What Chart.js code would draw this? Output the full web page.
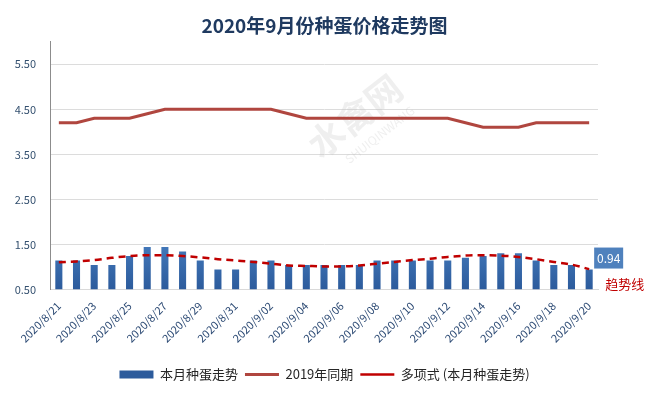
<!DOCTYPE html>
<html>
<head>
<meta charset="utf-8">
<script src="https://cdn.jsdelivr.net/npm/chart.js@4"></script>
<style>
  body { margin: 0; background: #fff; }
  #wrap { width: 649px; height: 395px; }
</style>
</head>
<body>
<div id="wrap"><canvas id="myChart" width="649" height="395"></canvas></div>
<script>
const dates = [
    '2020/8/21', '2020/8/22', '2020/8/23', '2020/8/24', '2020/8/25', '2020/8/26',
    '2020/8/27', '2020/8/28', '2020/8/29', '2020/8/30', '2020/8/31',
    '2020/9/01', '2020/9/02', '2020/9/03', '2020/9/04', '2020/9/05', '2020/9/06',
    '2020/9/07', '2020/9/08', '2020/9/09', '2020/9/10', '2020/9/11', '2020/9/12',
    '2020/9/13', '2020/9/14', '2020/9/15', '2020/9/16', '2020/9/17', '2020/9/18',
    '2020/9/19', '2020/9/20'
];
const thisMonth = [
    1.14, 1.14, 1.04, 1.04, 1.24, 1.44, 1.44, 1.34, 1.14, 0.94, 0.94,
    1.14, 1.14, 1.04, 1.04, 1.04, 1.04, 1.04, 1.14, 1.14, 1.14, 1.14,
    1.14, 1.20, 1.24, 1.30, 1.30, 1.14, 1.04, 1.04, 0.94
];
const lastYear = [
    4.2, 4.2, 4.3, 4.3, 4.3, 4.4, 4.5, 4.5, 4.5, 4.5, 4.5,
    4.5, 4.5, 4.4, 4.3, 4.3, 4.3, 4.3, 4.3, 4.3, 4.3, 4.3,
    4.3, 4.2, 4.1, 4.1, 4.1, 4.2, 4.2, 4.2, 4.2
];
const trend = [
    1.10, 1.12, 1.15, 1.20, 1.24, 1.26, 1.26, 1.24, 1.21, 1.17, 1.14,
    1.11, 1.07, 1.03, 1.02, 1.01, 1.01, 1.03, 1.07, 1.11, 1.15, 1.18,
    1.22, 1.25, 1.26, 1.25, 1.22, 1.17, 1.11, 1.05, 0.95
];
const yTicks = [0.5, 1.5, 2.5, 3.5, 4.5, 5.5];

const fontCJK = "'Noto Sans CJK SC', 'Noto Sans', sans-serif";
const ctx = document.getElementById('myChart');

// faint site watermark behind the marks
const watermark = {
    id: 'watermark',
    beforeDatasetsDraw(chart) {
        const c = chart.ctx;
        c.save();
        c.translate(355, 116);
        c.rotate(-38 * Math.PI / 180);
        c.fillStyle = 'rgba(190,190,190,0.25)';
        c.font = "bold 36px " + fontCJK;
        c.textAlign = 'center';
        c.textBaseline = 'middle';
        c.fillText('水禽网', 0, 0);
        c.font = "12px " + fontCJK;
        c.fillText('SHUIQINWANG', 8, 30);
        c.restore();
    }
};

// value box on the last bar + "趋势线" note
const lastNote = {
    id: 'lastNote',
    afterDatasetsDraw(chart) {
        const c = chart.ctx;
        const bars = chart.getDatasetMeta(0).data;
        const bar = bars[bars.length - 1];
        const txt = thisMonth[thisMonth.length - 1].toFixed(2);
        const x = bar.x + 5, y = bar.y - 22;
        c.save();
        c.fillStyle = '#4f81bd';
        c.fillRect(x, y, 29, 21);
        c.fillStyle = '#fff';
        c.font = "12px " + fontCJK;
        c.textAlign = 'center';
        c.textBaseline = 'middle';
        c.fillText(txt, x + 14.5, y + 11);
        c.fillStyle = '#c00000';
        c.font = "13px " + fontCJK;
        c.textAlign = 'left';
        c.fillText('趋势线', x + 11, bar.y + 15);
        c.restore();
    }
};

new Chart(ctx, {
    type: 'bar',
    data: {
        labels: dates,
        datasets: [{
            label: '本月种蛋走势',
            data: thisMonth,
            backgroundColor: function (context) {
                const area = context.chart.chartArea;
                if (!area) return '#3a6eb0';
                const g = context.chart.ctx.createLinearGradient(0, area.bottom - 70, 0, area.bottom);
                g.addColorStop(0, '#5089cb');
                g.addColorStop(1, '#2c5b9c');
                return g;
            },
            pointStyle: 'rect',
            categoryPercentage: 1,
            barPercentage: 0.4,
            order: 3
        }, {
            type: 'line',
            label: '2019年同期',
            data: lastYear,
            borderColor: '#b0463f',
            backgroundColor: '#b0463f',
            borderWidth: 3,
            pointRadius: 0,
            pointStyle: 'line',
            tension: 0,
            order: 1
        }, {
            type: 'line',
            label: '多项式 (本月种蛋走势)',
            data: trend,
            borderColor: '#c00000',
            backgroundColor: '#c00000',
            borderWidth: 2.5,
            borderDash: [7, 5],
            pointRadius: 0,
            pointStyle: 'line',
            cubicInterpolationMode: 'monotone',
            order: 2
        }]
    },
    options: {
        responsive: false,
        animation: false,
        layout: { padding: { left: 0, right: 0, top: 0, bottom: 4 } },
        plugins: {
            title: {
                display: true,
                text: '2020年9月份种蛋价格走势图',
                color: '#1f3a60',
                font: { family: fontCJK, size: 19, weight: 'bold' },
                padding: { top: 14, bottom: 5 }
            },
            legend: {
                position: 'bottom',
                labels: {
                    usePointStyle: true,
                    pointStyleWidth: 34,
                    boxHeight: 8,
                    padding: 7,
                    color: '#262626',
                    font: { family: fontCJK, size: 13 },
                    sort: (a, b) => a.datasetIndex - b.datasetIndex
                }
            },
            tooltip: { enabled: false }
        },
        scales: {
            x: {
                offset: true,
                grid: { display: false },
                border: { color: '#d9d9d9' },
                afterFit: function (scale) { scale.height = scale.height + 14; },
                ticks: {
                    autoSkip: false,
                    minRotation: 45,
                    maxRotation: 45,
                    padding: 2,
                    color: '#2c4a74',
                    font: { family: fontCJK, size: 11 },
                    callback: function (v, i) { return i % 2 === 0 ? dates[i] : ''; }
                }
            },
            y: {
                min: 0.5,
                max: 6,
                afterBuildTicks: function (scale) {
                    scale.ticks = yTicks.map(v => ({ value: v }));
                },
                afterFit: function (scale) { scale.width = 50; },
                grid: { color: '#dcdcdc', drawTicks: false },
                border: { color: '#8c8c8c' },
                ticks: {
                    padding: 14,
                    color: '#34506f',
                    font: { family: fontCJK, size: 11 },
                    callback: function (v) { return Number(v).toFixed(2); }
                }
            },
            // empty right margin that holds the value box and note
            yRight: {
                position: 'right',
                min: 0.5,
                max: 6,
                grid: { display: false },
                border: { display: false },
                ticks: { display: false },
                afterFit: function (scale) { scale.width = 51; }
            }
        }
    },
    plugins: [watermark, lastNote]
});
</script>
</body>
</html>
